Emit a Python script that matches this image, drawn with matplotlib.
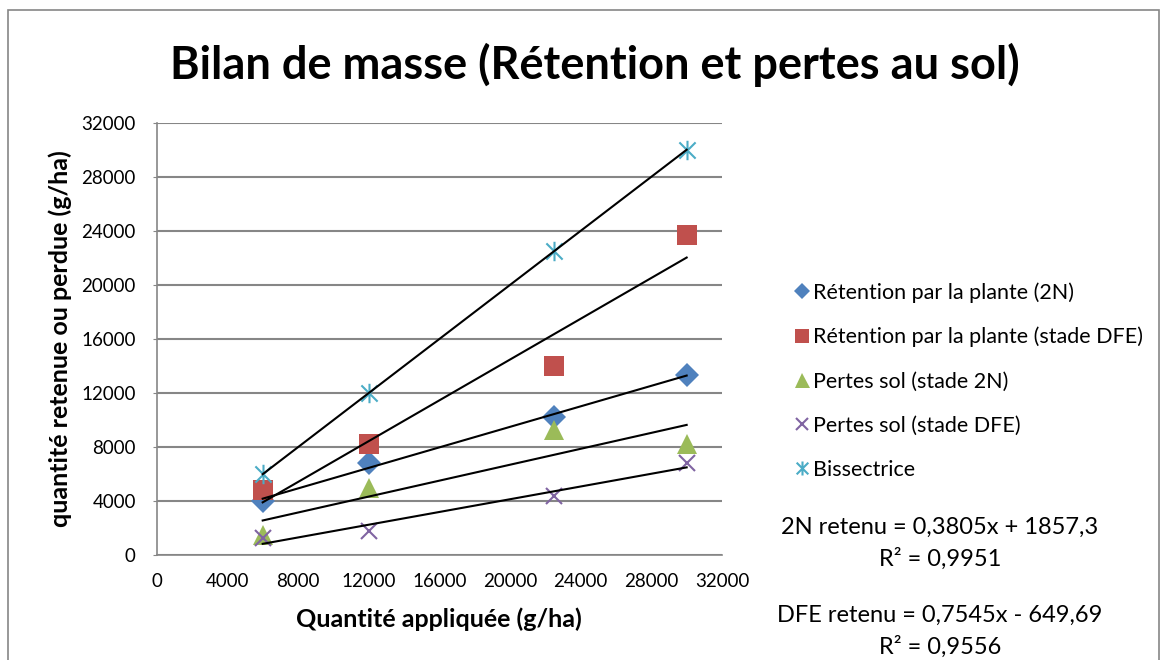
import numpy as np
import matplotlib
matplotlib.use("Agg")
import matplotlib.pyplot as plt
from matplotlib.path import Path
from matplotlib.patches import Rectangle

plt.rcParams["font.family"] = ["Lato", "DejaVu Sans"]

# data
applied = [6000, 12000, 22500, 30000]
ret_2n = [4000, 6800, 10250, 13350]
ret_dfe = [4800, 8250, 14000, 23700]
loss_2n = [1500, 5000, 9300, 8200]
loss_dfe = [1300, 1800, 4400, 6850]
bisector = [6000, 12000, 22500, 30000]

labels = [
    "Rétention par la plante (2N)",
    "Rétention par la plante (stade DFE)",
    "Pertes sol (stade 2N)",
    "Pertes sol (stade DFE)",
    "Bissectrice",
]
colors = ["#4F81BD", "#C0504D", "#9BBB59", "#8064A2", "#4BACC6"]
eq_lines = [
    "2N retenu = 0,3805x + 1857,3",
    "R² = 0,9951",
    "DFE retenu = 0,7545x - 649,69",
    "R² = 0,9556",
]

# excel-like star marker: an x with a vertical bar
star = Path(
    [(-1, -1), (1, 1), (-1, 1), (1, -1), (0, -1.2), (0, 1.2)],
    [Path.MOVETO, Path.LINETO, Path.MOVETO, Path.LINETO, Path.MOVETO, Path.LINETO],
)

W, H = 1167, 660
fig = plt.figure(figsize=(W / 100, H / 100), dpi=100)
ax = fig.add_axes([156.7 / W, 1 - 555.3 / H, (722 - 156.7) / W, (555.3 - 122.7) / H])

# chart border
fig.add_artist(Rectangle((8 / W, -0.05), (1159 - 8) / W, 1 - 10 / H + 0.05,
                         transform=fig.transFigure, fill=False,
                         edgecolor="#868686", lw=1.2))

series = [ret_2n, ret_dfe, loss_2n, loss_dfe, bisector]
styles = [
    dict(marker="D", markersize=12),
    dict(marker="s", markersize=14),
    dict(marker="^", markersize=15),
    dict(marker="x", markersize=12, markeredgewidth=1.5),
    dict(marker=star, markersize=14, markeredgewidth=1.5),
]

x = np.array(applied, dtype=float)
handles = []
for ys, col, st in zip(series, colors, styles):
    kw = dict(st)
    if kw["marker"] == "x" or kw["marker"] is star:
        kw.update(color=col, markeredgecolor=col)
    else:
        kw.update(color=col, markeredgecolor=col, markeredgewidth=0)
    h, = ax.plot(applied, ys, linestyle="none", zorder=3, **kw)
    handles.append(h)
    # linear trendline
    a, b = np.polyfit(x, ys, 1)
    xs = np.array([x.min(), x.max()])
    ax.plot(xs, a * xs + b, color="black", lw=1.5, zorder=4)

ax.set_xlim(0, 32000)
ax.set_ylim(0, 32000)
ax.set_xticks(np.arange(0, 32001, 4000))
ax.set_yticks(np.arange(0, 32001, 4000))
ax.yaxis.grid(True, color="#868686", lw=1.5)
ax.set_axisbelow(True)
for s in ("top", "right"):
    ax.spines[s].set_visible(False)
for s in ("left", "bottom"):
    ax.spines[s].set_color("#868686")
    ax.spines[s].set_linewidth(1.2)
ax.tick_params(axis="x", length=0, pad=13, labelsize=13.5)
ax.tick_params(axis="y", length=3, color="#868686", pad=12, labelsize=13.5)

ax.set_xlabel("Quantité appliquée (g/ha)", fontsize=18, fontweight="bold", labelpad=12)
ax.set_ylabel("quantité retenue ou perdue (g/ha)", fontsize=18, fontweight="bold", labelpad=7)

fig.text(595 / W, 1 - 65 / H, "Bilan de masse (Rétention et pertes au sol)",
         ha="center", va="center", fontsize=32.5, fontweight="bold")

fig.legend(handles, labels, loc="center left", bbox_to_anchor=(783 / W, 1 - 381 / H),
           frameon=False, fontsize=15.5, handlelength=0.75, handletextpad=0.15,
           labelspacing=1.12, borderpad=0, markerscale=0.72)

for txt, yy in zip(eq_lines, [527, 559, 615, 647]):
    fig.text(940 / W, 1 - yy / H, txt, ha="center", va="center", fontsize=17)

fig.savefig("out.png", dpi=100)
